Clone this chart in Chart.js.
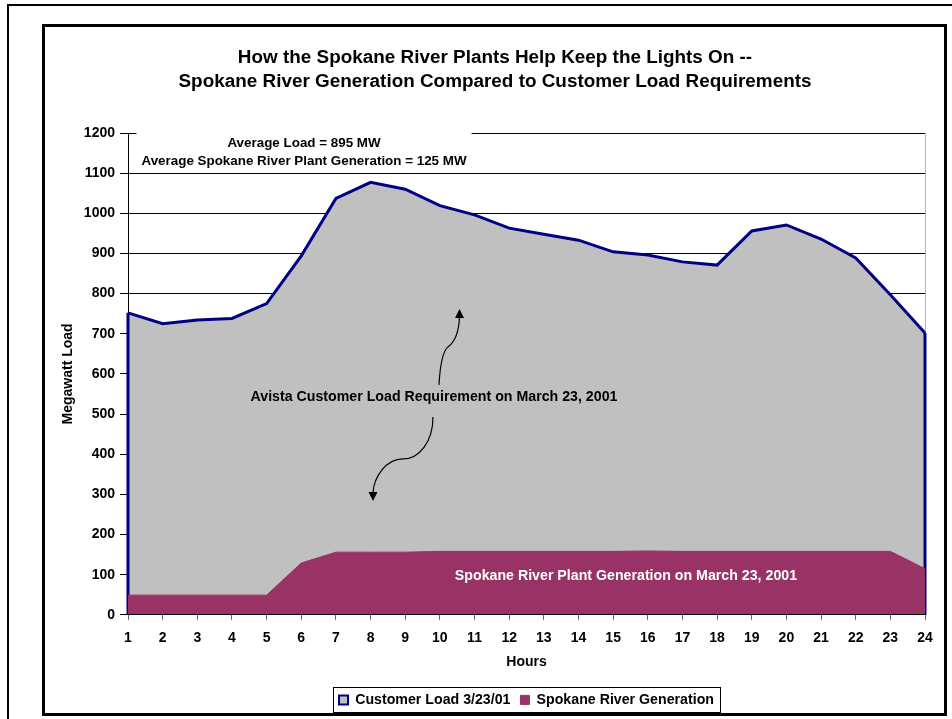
<!DOCTYPE html>
<html><head><meta charset="utf-8">
<script src="https://cdn.jsdelivr.net/npm/chart.js@4.4.1/dist/chart.umd.min.js"></script>
<style>
html,body{margin:0;padding:0;background:#fff;width:952px;height:719px;overflow:hidden}
#outer{position:absolute;left:7px;top:4px;width:980px;height:740px;border:2px solid #000;pointer-events:none}
#inner{position:absolute;left:42px;top:24px;width:899px;height:686px;border:3px solid #000;pointer-events:none}
canvas{position:absolute;left:0;top:0}
</style></head>
<body>
<canvas id="c" width="952" height="719"></canvas>
<div id="outer"></div><div id="inner"></div>
<script>
const hours = ['1','2','3','4','5','6','7','8','9','10','11','12','13','14','15','16','17','18','19','20','21','22','23','24'];
const customerLoad = [752,725,734,738,775,894,1037,1077,1060,1019,996,963,948,933,904,896,879,871,956,971,936,889,797,702];
const riverGeneration = [49,49,49,49,49,129,156,156,156,158,158,158,158,158,158,159,158,158,158,158,158,158,158,115];
const yTickValues = [0,100,200,300,400,500,600,700,800,900,1000,1100,1200];
const seriesNames = ['Customer Load 3/23/01','Spokane River Generation'];
const titleLines = ['How the Spokane River Plants Help Keep the Lights On --','Spokane River Generation Compared to Customer Load Requirements'];
const averageLines = ['Average Load = 895 MW','Average Spokane River Plant Generation = 125 MW'];
const loadNote = 'Avista Customer Load Requirement on March 23, 2001';
const genNote = 'Spokane River Plant Generation on March 23, 2001';

const FONT = "'Liberation Sans', Arial, sans-serif";
const NAVY = '#000080', GRAY = '#C0C0C0', PLUM = '#993366';

function arrowHead(ctx, x, y, dir) {
  ctx.beginPath();
  ctx.moveTo(x, y);
  ctx.lineTo(x - 4.5, y - dir * 9);
  ctx.lineTo(x + 4.5, y - dir * 9);
  ctx.closePath();
  ctx.fill();
}

const decor = {
  id: 'decor',
  beforeDatasetsDraw(chart) {
    const {ctx, chartArea: a, scales: {x, y}} = chart;
    ctx.save();
    ctx.strokeStyle = '#b8b8b8'; ctx.lineWidth = 1;
    const rx = Math.round(a.right) + 0.5;
    ctx.beginPath(); ctx.moveTo(rx, a.top); ctx.lineTo(rx, a.bottom); ctx.stroke();
    const cx = x.getPixelForValue(5.08);
    const y1 = y.getPixelForValue(1175), y2 = y.getPixelForValue(1130);
    ctx.font = 'bold 13.4px ' + FONT;
    const w = Math.max(...averageLines.map(t => ctx.measureText(t).width)) + 10;
    ctx.fillStyle = '#fff';
    ctx.fillRect(cx - w / 2, y1 - 12, w, (y2 - y1) + 21);
    ctx.fillStyle = '#000'; ctx.textAlign = 'center'; ctx.textBaseline = 'middle';
    ctx.fillText(averageLines[0], cx, y1);
    ctx.fillText(averageLines[1], cx, y2);
    ctx.restore();
  },
  afterDatasetDraw(chart, args) {
    if (args.index !== 0) return;
    const {ctx, scales: {y}} = chart;
    const pts = args.meta.data;
    const base = y.getPixelForValue(0);
    const first = pts[0], last = pts[pts.length - 1];
    ctx.save();
    ctx.strokeStyle = NAVY; ctx.lineWidth = 3;
    ctx.beginPath();
    ctx.moveTo(first.x, first.y); ctx.lineTo(first.x, base);
    ctx.moveTo(last.x, last.y); ctx.lineTo(last.x, base);
    ctx.stroke();
    ctx.restore();
  },
  afterDatasetsDraw(chart) {
    const {ctx, scales: {x, y}} = chart;
    ctx.save();
    const cx = x.getPixelForValue(8.83), cy = y.getPixelForValue(542.7);
    ctx.font = 'bold 14.2px ' + FONT;
    ctx.fillStyle = '#000'; ctx.textAlign = 'center'; ctx.textBaseline = 'middle';
    ctx.fillText(loadNote, cx, cy);
    ctx.strokeStyle = '#000'; ctx.lineWidth = 1.2;
    ctx.beginPath();
    ctx.moveTo(cx + 5, cy - 12);
    ctx.bezierCurveTo(cx + 6, cy - 30, cx + 8, cy - 45, cx + 14, cy - 50);
    ctx.bezierCurveTo(cx + 22, cy - 56, cx + 25, cy - 66, cx + 25.5, cy - 80);
    ctx.stroke();
    arrowHead(ctx, cx + 25.5, cy - 88, -1);
    ctx.beginPath();
    ctx.moveTo(cx - 1, cy + 20);
    ctx.bezierCurveTo(cx - 1, cy + 45, cx - 15, cy + 62, cx - 31, cy + 62);
    ctx.bezierCurveTo(cx - 48, cy + 62, cx - 60, cy + 80, cx - 61, cy + 96);
    ctx.stroke();
    arrowHead(ctx, cx - 61, cy + 104, 1);
    const gx = x.getPixelForValue(14.37), gy = y.getPixelForValue(97);
    ctx.fillStyle = '#fff';
    ctx.fillText(genNote, gx, gy);
    ctx.restore();
  },
  afterDraw(chart) {
    const {ctx} = chart;
    ctx.save();
    ctx.font = 'bold 18.9px ' + FONT;
    ctx.fillStyle = '#000'; ctx.textAlign = 'center'; ctx.textBaseline = 'middle';
    ctx.fillText(titleLines[0], 495, 58);
    ctx.fillText(titleLines[1], 495, 82);
    const lg = chart.legend, hb = lg.legendHitBoxes;
    if (hb && hb.length) {
      const l = Math.round(hb[0].left - 6) + 0.5;
      const r = Math.round(hb[hb.length - 1].left + hb[hb.length - 1].width + 6) + 0.5;
      const t = Math.round(lg.top + 4) + 0.5;
      ctx.strokeStyle = '#000'; ctx.lineWidth = 1;
      ctx.strokeRect(l, t, r - l, 25);
    }
    ctx.restore();
  }
};

new Chart(document.getElementById('c'), {
  type: 'line',
  data: {
    labels: hours,
    datasets: [
      {label: seriesNames[0], data: customerLoad, order: 1, fill: 'origin',
       backgroundColor: GRAY, borderColor: NAVY, borderWidth: 3, pointRadius: 0, tension: 0},
      {label: seriesNames[1], data: riverGeneration, order: 0, fill: 'origin',
       backgroundColor: PLUM, borderColor: PLUM, borderWidth: 1, pointRadius: 0, tension: 0}
    ]
  },
  options: {
    responsive: false, animation: false, devicePixelRatio: 1,
    layout: {padding: {left: 44, right: 27, top: 133, bottom: 2}},
    plugins: {
      title: {display: false},
      tooltip: {enabled: false},
      legend: {
        display: true, position: 'bottom', fullSize: false, onClick: null,
        labels: {
          font: {family: FONT, size: 14.2, weight: 'bold'}, color: '#000',
          boxWidth: 9, boxHeight: 9, padding: 10,
          sort: (a, b) => a.datasetIndex - b.datasetIndex,
          generateLabels(chart) {
            return Chart.defaults.plugins.legend.labels.generateLabels(chart).map(it => {
              it.lineWidth = it.datasetIndex === 0 ? 2 : 1; return it;
            });
          }
        }
      }
    },
    scales: {
      x: {
        type: 'category', offset: false,
        grid: {drawOnChartArea: false, drawTicks: true, tickLength: 5, color: '#666'},
        border: {display: true, color: '#000', width: 1, z: 1},
        ticks: {font: {family: FONT, size: 14, weight: 'bold'}, color: '#000', padding: 10, maxRotation: 0, autoSkip: false},
        title: {display: true, text: 'Hours', font: {family: FONT, size: 14, weight: 'bold'}, color: '#000', padding: {top: 0, bottom: 12.6}},
        afterFit(s) { s.height = 68; }
      },
      y: {
        min: 0, max: 1200,
        afterBuildTicks(s) { s.ticks = yTickValues.map(v => ({value: v})); },
        grid: {color: '#000', lineWidth: 1, drawTicks: true, tickLength: 8},
        border: {display: true, color: '#000', width: 1},
        ticks: {font: {family: FONT, size: 14, weight: 'bold'}, color: '#000', padding: 5,
                callback: v => String(v)},
        title: {display: true, text: 'Megawatt Load', font: {family: FONT, size: 14, weight: 'bold'}, color: '#000', padding: {top: 15.6, bottom: 0}},
        afterFit(s) { s.width = 84; }
      }
    }
  },
  plugins: [decor]
});
</script>
</body></html>
